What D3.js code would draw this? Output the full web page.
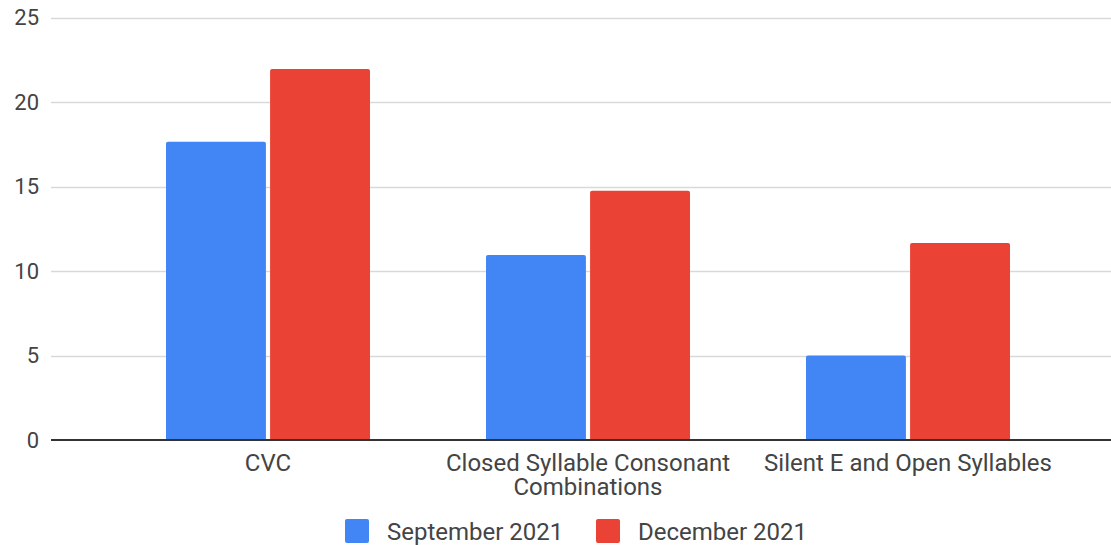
<!DOCTYPE html>
<html><head><meta charset="utf-8">
<script src="https://cdn.jsdelivr.net/npm/d3@7"></script>
<style>
html,body{margin:0;padding:0;background:#fff;}
svg{display:block;font-family:Roboto, Arial, sans-serif;}
</style></head>
<body><svg id="c" width="1111" height="545"></svg>
<script>
const categories = ["CVC", "Closed Syllable Consonant Combinations", "Silent E and Open Syllables"];
const categoryLines = [["CVC"], ["Closed Syllable Consonant", "Combinations"], ["Silent E and Open Syllables"]];
const seriesNames = ["September 2021", "December 2021"];
const september2021 = [17.65, 10.95, 5.0];
const december2021 = [21.95, 14.75, 11.65];
const yTicks = [0, 5, 10, 15, 20, 25];
const colors = ["#4285f4", "#ea4335"];

const svg = d3.select("#c");
const plotLeft = 51, plotRight = 1111;
const y = d3.scaleLinear().domain([0, 25]).range([440, 17.5]);
const x = d3.scaleBand().domain(categories).range([108, 1068]).paddingInner(0.3625).paddingOuter(0.18125);
const xs = d3.scaleBand().domain(seriesNames).range([0, x.bandwidth()]).paddingInner(0.04);
const textColor = "#444";

// gridlines
svg.append("g").selectAll("line").data(yTicks.filter(d => d > 0)).join("line")
  .attr("x1", plotLeft).attr("x2", plotRight)
  .attr("y1", d => Math.round(y(d)) + 0.5).attr("y2", d => Math.round(y(d)) + 0.5)
  .attr("stroke", "#d9d9d9").attr("stroke-width", 1.3);

// y axis labels
const yAxis = d3.axisLeft(y).tickValues(yTicks).tickSize(0).tickPadding(0);
const ga = svg.append("g").attr("transform", `translate(39,0)`).call(yAxis);
ga.select(".domain").remove();
ga.selectAll("text").attr("fill", textColor).attr("font-size", 22).attr("font-family", "Roboto, Arial, sans-serif");

// bars
const data = categories.map((c, i) => ({c, vals: [september2021[i], december2021[i]]}));
const groups = svg.append("g").selectAll("g").data(data).join("g")
  .attr("transform", d => `translate(${x(d.c)},0)`);
groups.selectAll("path").data(d => d.vals.map((v, j) => ({v, s: seriesNames[j], j}))).join("path")
  .attr("fill", d => colors[d.j])
  .attr("d", d => {
    const x0 = xs(d.s), w = xs.bandwidth(), y0 = y(d.v), y1 = y(0), r = 2;
    return `M${x0},${y1}V${y0 + r}Q${x0},${y0} ${x0 + r},${y0}H${x0 + w - r}Q${x0 + w},${y0} ${x0 + w},${y0 + r}V${y1}Z`;
  });

// baseline
svg.append("line").attr("x1", plotLeft).attr("x2", plotRight)
  .attr("y1", y(0)).attr("y2", y(0)).attr("stroke", "#333").attr("stroke-width", 2);

// category labels
const cl = svg.append("g").selectAll("text").data(categories).join("text")
  .attr("x", d => x(d) + x.bandwidth() / 2).attr("y", 471)
  .attr("text-anchor", "middle").attr("fill", textColor).attr("font-size", 24);
cl.selectAll("tspan").data((d, i) => categoryLines[i]).join("tspan")
  .attr("x", function() { return this.parentNode.getAttribute("x"); })
  .attr("dy", (d, i) => i === 0 ? 0 : 24).text(d => d);

// legend
const legendX = [345, 596];
const lg = svg.append("g").selectAll("g").data(seriesNames).join("g")
  .attr("transform", (d, i) => `translate(${legendX[i]},519)`);
lg.append("rect").attr("width", 24).attr("height", 24).attr("rx", 2).attr("fill", (d, i) => colors[i]);
lg.append("text").attr("x", 42).attr("y", 21).attr("fill", textColor).attr("font-size", 24).text(d => d);
</script></body></html>
